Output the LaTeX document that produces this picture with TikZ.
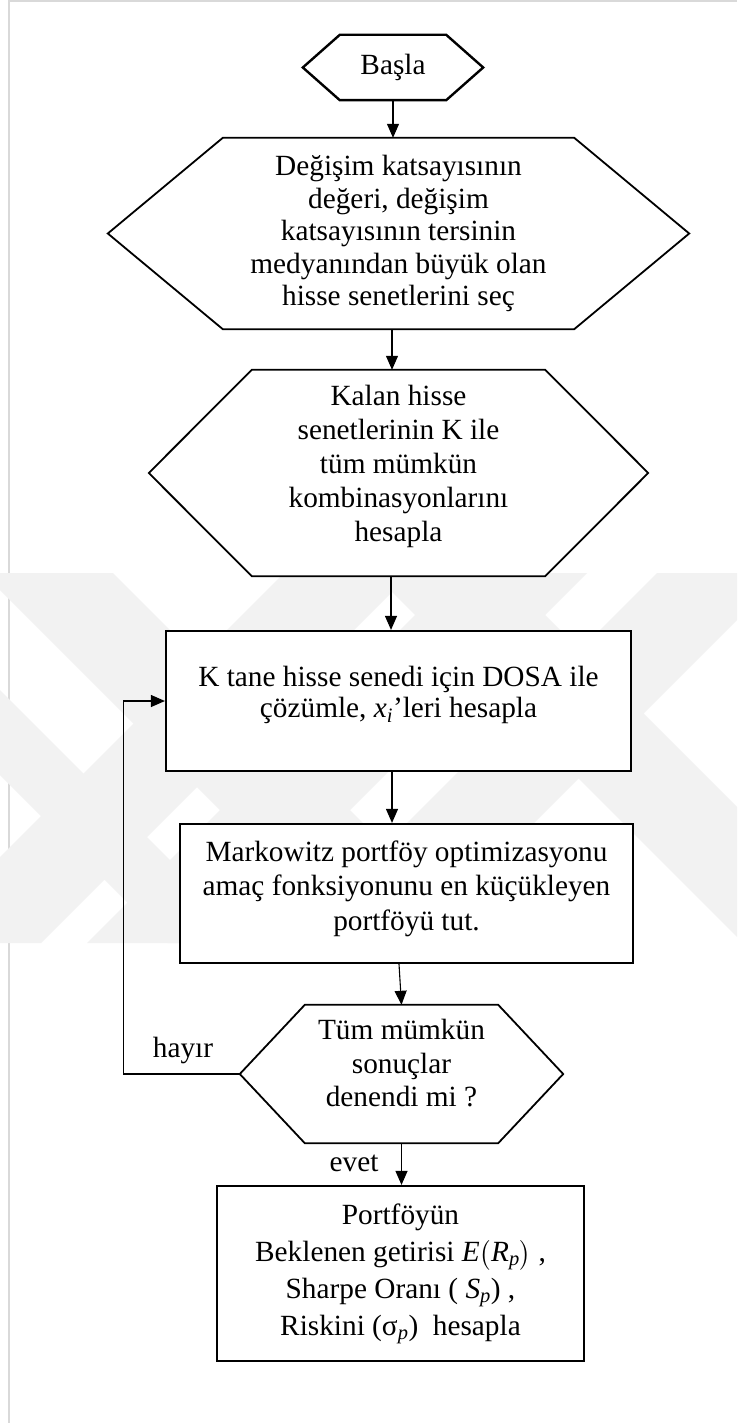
\documentclass[tikz,border=0pt]{standalone}
\usepackage{amsmath}
\usepackage{fontspec}
\setmainfont{Liberation Serif}
\usetikzlibrary{arrows.meta,calc,backgrounds}

\tikzset{
  txt/.style={font=\fontsize{29.3}{33}\selectfont, align=center},
  hexnode/.style={txt, inner sep=0pt, draw=none},
  boxnode/.style={txt, draw, fill=white, line width=2.2pt, inner sep=0pt},
  hexline/.style={line width=1.8pt, line join=miter, fill=white},
  arr/.style={line width=1.1pt, -{Triangle[length=14pt,width=12pt]}},
  frameline/.style={draw=black!15, line width=2pt},
  wmark/.style={fill=black!5},
}

% hexagon outline around a node: #2 = node name, #3 = horizontal inset of the corners
\newcommand\hexagonat[3][hexline]{%
  \filldraw[#1] (#2.west) -- ([xshift=#3]#2.north west) -- ([xshift=-#3]#2.north east)
    -- (#2.east) -- ([xshift=-#3]#2.south east) -- ([xshift=#3]#2.south west) -- cycle;}
% diagonal watermark bands between y=573 and y=943
\newcommand\rband[2]{\fill[wmark] (#1-573,573) -- (#2-573,573) -- (#2-943,943) -- (#1-943,943) -- cycle;}
\newcommand\lband[2]{\fill[wmark] (#1+573,573) -- (#2+573,573) -- (#2+943,943) -- (#1+943,943) -- cycle;}
% italic letter for formulas
\newcommand\mv[1]{\textit{#1}}

\begin{document}
\begin{tikzpicture}[x=1pt,y=-1pt]
\useasboundingbox (0,0) rectangle (737,1423);
\begin{scope}[on background layer]
  \fill[white] (0,0) rectangle (737,1423);
  \draw[frameline] (9,1423) -- (9,0.8) -- (737,0.8);
  \begin{scope}
    \clip (0,573) rectangle (737,943);
    \rband{857}{984}
    \rband{1030}{1160}
    \rband{1230}{1357}
    \lband{-590}{-460}
    \lband{-200}{-70}
    \lband{-775}{-690}
  \end{scope}
\end{scope}

% start
\node[hexnode, minimum width=180pt, minimum height=65pt] (start) at (393,67.5) {Başla};

% selection step
\node[hexnode, minimum width=581pt, minimum height=191pt,
      font=\fontsize{29.3}{32.5}\selectfont] (sel) at (398.5,233.5)
  {Değişim katsayısının\\ değeri, değişim\\ katsayısının tersinin\\ medyanından büyük olan\\ hisse senetlerini seç};

% combinations
\node[hexnode, minimum width=499pt, minimum height=206pt,
      font=\fontsize{29.3}{34}\selectfont] (comb) at (398.5,473)
  {Kalan hisse\\ senetlerinin K ile\\ tüm mümkün\\ kombinasyonlarını\\ hesapla\\[-14pt]\mbox{}};

% solve with DOSA
\node[boxnode, minimum width=465pt, minimum height=140pt,
      font=\fontsize{29.3}{31}\selectfont] (solve) at (398.5,701)
  {K tane hisse senedi için DOSA ile\\ çözümle, $\mv{x}_{\mv{i}}$’leri hesapla\\[-12pt]\mbox{}};

% Markowitz
\node[boxnode, minimum width=453pt, minimum height=139pt,
      font=\fontsize{29.3}{34.5}\selectfont] (mark) at (406.5,893.5)
  {Markowitz portföy optimizasyonu\\ amaç fonksiyonunu en küçükleyen\\ portföyü tut.\\[-18pt]\mbox{}};

% decision
\node[hexnode, minimum width=323pt, minimum height=138pt,
      font=\fontsize{29.3}{33.5}\selectfont] (dec) at (401.5,1074)
  {Tüm mümkün\\ sonuçlar\\ denendi mi ?\\[-12pt]\mbox{}};

% result
\node[boxnode, minimum width=367pt, minimum height=175pt,
      font=\fontsize{29.3}{37}\selectfont] (res) at (400.5,1273.5)
  {Portföyün\\ Beklenen getirisi $\mv{E}\bigl(\mv{R}_{\mv{p}}\bigr)$ ,\\
   Sharpe Oranı ( $\mv{S}_{\mv{p}}$) ,\\ Riskini (σ$_{\mv{p}}$)\ \ hesapla};

% hexagon outlines, under the texts
\begin{scope}[on background layer]
  \hexagonat[hexline, line width=2.4pt]{start}{37pt}
  \hexagonat{sel}{115pt}
  \hexagonat{comb}{103pt}
  \hexagonat{dec}{65pt}
\end{scope}

% connectors
\draw[arr] (start.south) -- (start.south |- sel.north);
\draw[arr] ([xshift=-6.5pt]sel.south) -- ([xshift=-6.5pt]sel.south |- comb.north);
\draw[arr] ([xshift=-7.5pt]comb.south) -- ([xshift=-7.5pt]comb.south |- solve.north);
\draw[arr] ([xshift=-6.5pt]solve.south) -- ([xshift=-6.5pt]solve.south |- mark.north);
\draw[arr] ([xshift=-7.5pt]mark.south) -- (dec.north);
\draw[arr] (dec.south) -- (dec.south |- res.north);
\draw[arr] (dec.west) -| ([xshift=-41pt]solve.west) -- (solve.west);

% branch labels
\node[txt] (no) at (183,1050) {hayır};
\node[txt] (yes) at (354,1163) {evet};
\end{tikzpicture}
\end{document}
